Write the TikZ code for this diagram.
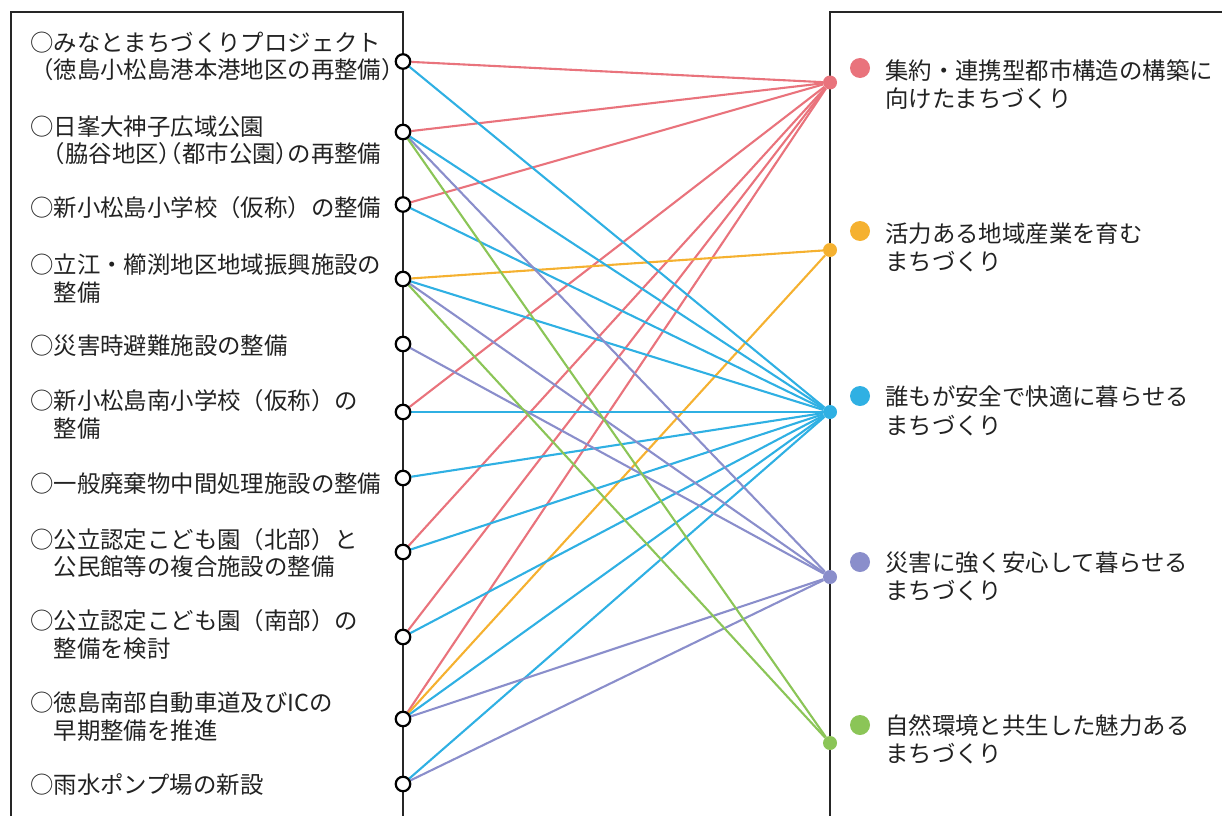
\documentclass[tikz,border=0pt]{standalone}
\usepackage{fontspec}
\newfontfamily\jp{Noto Sans CJK JP}
\usetikzlibrary{backgrounds}
\definecolor{cred}{HTML}{E9737C}
\definecolor{corange}{HTML}{F5B130}
\definecolor{cblue}{HTML}{2FB0E3}
\definecolor{cpurple}{HTML}{8A8ECB}
\definecolor{cgreen}{HTML}{8BC557}
\definecolor{ctext}{HTML}{222222}
\newcommand\lpar{\kern-.5em（}
\newcommand\rpar{）\kern-.5em}
\tikzset{
  frame/.style={line width=2.2pt, draw=black!85},
  item/.style={anchor=west, inner sep=0pt, align=left, text=ctext,
    font=\jp\fontsize{23.4}{27.5}\selectfont},
  goal/.style={anchor=west, inner sep=0pt, align=left, text=ctext,
    font=\jp\fontsize{23.4}{28.5}\selectfont},
  port/.style={circle, draw=black, fill=white, line width=2.2pt, minimum size=14.5pt, inner sep=0pt},
  hub/.style={circle, fill=#1, minimum size=14pt, inner sep=0pt},
  bullet/.style={circle, fill=#1, minimum size=20pt, inner sep=0pt},
  link/.style={line width=2.1pt, draw=#1},
}
\begin{document}
\begin{tikzpicture}[x=1pt,y=-1pt]
\useasboundingbox (0,0) rectangle (1222,816);
% frames
\draw[frame] (11,816) -- (11,12) -- (403,12) -- (403,816);
\draw[frame] (1222,12) -- (830,12) -- (830,816);
% left texts
\node[item] (T1) at (30,56.5) {○みなとまちづくりプロジェクト\\\hspace*{.5em}\lpar 徳島小松島港本港地区の再整備\rpar};
\node[item] (T2) at (30,140.5) {○日峯大神子広域公園\\\hspace*{1em}\lpar 脇谷地区\rpar\lpar 都市公園\rpar の再整備};
\node[item] (T3) at (30,208) {○新小松島小学校（仮称）の整備};
\node[item] (T4) at (30,278.5) {○立江・櫛渕地区地域振興施設の\\\hspace*{1em}整備};
\node[item] (T5) at (30,346) {○災害時避難施設の整備};
\node[item] (T6) at (30,414.5) {○新小松島南小学校（仮称）の\\\hspace*{1em}整備};
\node[item] (T7) at (30,484) {○一般廃棄物中間処理施設の整備};
\node[item] (T8) at (30,553) {○公立認定こども園（北部）と\\\hspace*{1em}公民館等の複合施設の整備};
\node[item] (T9) at (30,634.5) {○公立認定こども園（南部）の\\\hspace*{1em}整備を検討};
\node[item] (T10) at (30,716.5) {○徳島南部自動車道及びICの\\\hspace*{1em}早期整備を推進};
\node[item] (T11) at (30,785) {○雨水ポンプ場の新設};
% left ports
\node[port] (L1) at (403,61.5) {};
\node[port] (L2) at (403,132) {};
\node[port] (L3) at (403,204.5) {};
\node[port] (L4) at (403,279) {};
\node[port] (L5) at (403,344) {};
\node[port] (L6) at (403,412) {};
\node[port] (L7) at (403,478) {};
\node[port] (L8) at (403,552) {};
\node[port] (L9) at (403,637) {};
\node[port] (L10) at (403,719) {};
\node[port] (L11) at (403,784) {};
% right hubs
\node[hub=cred] (R1) at (830,82.5) {};
\node[hub=corange] (R2) at (830,250) {};
\node[hub=cblue] (R3) at (830,412) {};
\node[hub=cpurple] (R4) at (830,577) {};
\node[hub=cgreen] (R5) at (830,743) {};
% legend
\node[bullet=cred] (B1) at (860,68) {};
\node[bullet=corange] (B2) at (860,231) {};
\node[bullet=cblue] (B3) at (860,396) {};
\node[bullet=cpurple] (B4) at (860,562) {};
\node[bullet=cgreen] (B5) at (860,725) {};
\node[goal] (G1) at (885,84.5) {集約・連携型都市構造の構築に\\向けたまちづくり};
\node[goal] (G2) at (885,247.5) {活力ある地域産業を育む\\まちづくり};
\node[goal] (G3) at (885,411) {誰もが安全で快適に暮らせる\\まちづくり};
\node[goal] (G4) at (885,576.5) {災害に強く安心して暮らせる\\まちづくり};
\node[goal] (G5) at (885,739.5) {自然環境と共生した魅力ある\\まちづくり};
% links
\begin{pgfonlayer}{background}
\foreach \s in {1,2,3,6,8,9,10} \draw[link=cred] (L\s) -- (R1);
\foreach \s in {4,10} \draw[link=corange] (L\s) -- (R2);
\foreach \s in {1,2,3,4,6,7,8,9,10,11} \draw[link=cblue] (L\s) -- (R3);
\foreach \s in {2,4,5,10,11} \draw[link=cpurple] (L\s) -- (R4);
\foreach \s in {2,4} \draw[link=cgreen] (L\s) -- (R5);
\end{pgfonlayer}
\end{tikzpicture}
\end{document}
